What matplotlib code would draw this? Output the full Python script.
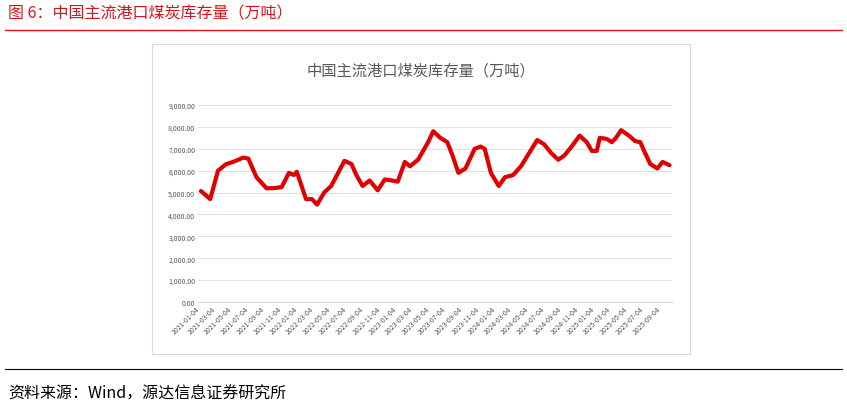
import matplotlib
matplotlib.use("Agg")
import matplotlib.pyplot as plt
import matplotlib.dates as mdates
import pandas as pd
from matplotlib.patches import Rectangle
from matplotlib.lines import Line2D

plt.rcParams['font.family'] = ['Noto Sans CJK SC', 'DejaVu Sans']

dates = ["2021-01-04", "2021-02-07", "2021-03-08", "2021-04-07", "2021-05-03", "2021-06-10",
         "2021-06-28", "2021-07-28", "2021-09-03", "2021-09-30", "2021-10-29", "2021-11-25",
         "2021-12-13", "2021-12-24", "2022-01-27", "2022-02-18", "2022-03-09", "2022-04-04",
         "2022-04-30", "2022-05-30", "2022-06-18", "2022-07-14", "2022-08-01", "2022-08-24",
         "2022-09-19", "2022-10-19", "2022-11-14", "2022-12-10", "2023-01-01", "2023-01-27",
         "2023-02-15", "2023-03-17", "2023-04-23", "2023-05-12", "2023-06-07", "2023-07-03",
         "2023-07-22", "2023-08-13", "2023-09-08", "2023-10-12", "2023-11-03", "2023-11-18",
         "2023-12-11", "2024-01-09", "2024-02-01", "2024-03-02", "2024-03-31", "2024-04-30",
         "2024-05-30", "2024-06-25", "2024-07-21", "2024-08-16", "2024-09-08", "2024-10-04",
         "2024-11-03", "2024-11-29", "2024-12-18", "2025-01-05", "2025-01-16", "2025-02-11",
         "2025-03-02", "2025-03-17", "2025-04-05", "2025-05-04", "2025-05-27", "2025-06-15",
         "2025-06-29", "2025-07-22", "2025-08-17", "2025-09-05", "2025-10-01"]
stock = [5070, 4700, 6000, 6300, 6400, 6600, 6550, 5700, 5200, 5200, 5250, 5900,
         5800, 5950, 4700, 4700, 4450, 5000, 5300, 6000, 6450, 6300, 5800, 5300,
         5550, 5100, 5600, 5550, 5500, 6400, 6200, 6500, 7300, 7800, 7500, 7300,
         6700, 5900, 6100, 7000, 7100, 7000, 5900, 5300, 5700, 5800, 6200, 6800,
         7400, 7200, 6800, 6500, 6700, 7100, 7600, 7300, 6900, 6900, 7500, 7450,
         7300, 7500, 7850, 7600, 7350, 7300, 6900, 6300, 6100, 6400, 6250]
tick_dates = pd.date_range("2021-01-01", "2025-09-30", freq="2MS") + pd.Timedelta(days=3)
y_ticks = list(range(0, 9001, 1000))

W, H = 847, 410
fig = plt.figure(figsize=(W / 100, H / 100), dpi=100)

fig.text(8 / W, 1 - 14 / H, "图 6：中国主流港口煤炭库存量（万吨）", color="#d7141a",
         fontsize=11.5, va="center", ha="left")
fig.add_artist(Line2D([5 / W, 842 / W], [1 - 31 / H] * 2, color="#d7141a", lw=1))
fig.add_artist(Line2D([5 / W, 842 / W], [1 - 370 / H] * 2, color="black", lw=0.8))
fig.text(8 / W, 1 - 394 / H, "资料来源：Wind，源达信息证券研究所", fontsize=11.5,
         va="center", ha="left")
fig.add_artist(Rectangle((152 / W, 1 - 355 / H), 538 / W, 310 / H, fill=False,
                         edgecolor="#d9d9d9", lw=0.8))
fig.text(421 / W, 1 - 71 / H, "中国主流港口煤炭库存量（万吨）", color="#595959",
         fontsize=11, ha="center", va="center")

ax = fig.add_axes([198 / W, 1 - 303 / H, 474 / W, 197 / H])
ax.plot(pd.to_datetime(dates), stock, color="#e00000", lw=3, solid_capstyle="round",
        solid_joinstyle="round")
ax.set_ylim(0, 9000)
ax.set_yticks(y_ticks)
ax.set_yticklabels([f"{v:,.2f}" for v in y_ticks], fontsize=5, color="#595959")
ax.set_xlim(pd.Timestamp("2020-12-24"), pd.Timestamp("2025-10-10"))
ax.set_xticks(tick_dates)
ax.xaxis.set_major_formatter(mdates.DateFormatter("%Y-%m-%d"))
plt.setp(ax.get_xticklabels(), rotation=45, ha="right", fontsize=5, color="#595959")
ax.grid(axis="y", color="#d9d9d9", lw=0.6)
for s in ["top", "right", "left"]:
    ax.spines[s].set_visible(False)
ax.spines["bottom"].set_color("#d9d9d9")
ax.tick_params(length=0, pad=2)

fig.savefig("out.png", dpi=100)
